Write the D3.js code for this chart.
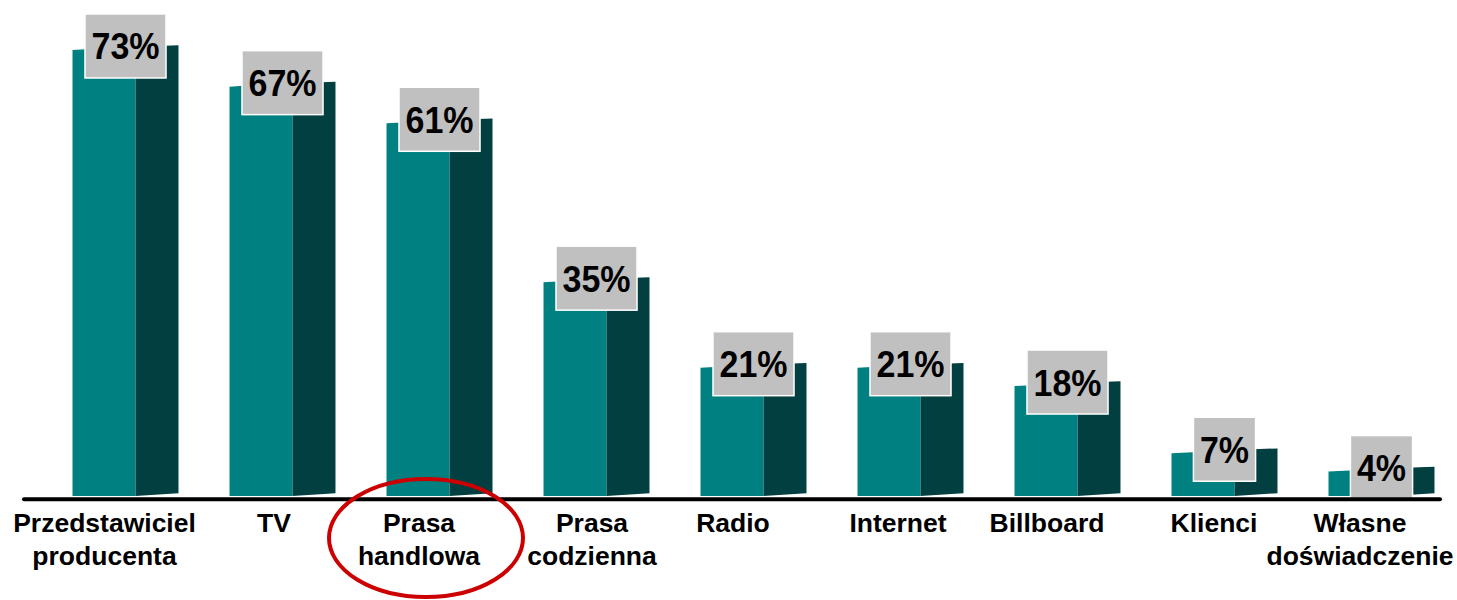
<!DOCTYPE html>
<html>
<head>
<meta charset="utf-8">
<script src="https://cdn.jsdelivr.net/npm/d3@7"></script>
<style>
  html, body { margin: 0; padding: 0; background: #fff; }
  svg { display: block; }
</style>
</head>
<body>
<svg id="chart" width="1457" height="600"></svg>
<script>
// ---- data ----
const categories = [
  "Przedstawiciel\nproducenta",
  "TV",
  "Prasa\nhandlowa",
  "Prasa\ncodzienna",
  "Radio",
  "Internet",
  "Billboard",
  "Klienci",
  "Własne\ndoświadczenie"
];
const values = [73, 67, 61, 35, 21, 21, 18, 7, 4];
const valueLabels = ["73%", "67%", "61%", "35%", "21%", "21%", "18%", "7%", "4%"];
const highlighted = ["Prasa\nhandlowa"];

// ---- layout ----
const W = 1457, H = 600;
const baseY = 496;
const labelDx = [-21, -8.5, -20.5, -4.5, -20.5, -12.5, -20.5, -10.5, -21.5];

const svg = d3.select("#chart");

const x = d3.scaleBand()
  .domain(categories)
  .range([47, 1460])
  .paddingInner(0.325)
  .paddingOuter(0.1625);

const y = d3.scaleLinear().domain([0, 80]).range([baseY, baseY - 80 * 6.11]);

const front = "#008080";
const side = "#023F40";

const bars = svg.append("g").selectAll("g.bar")
  .data(categories.map((c, i) => ({ c, v: values[i], t: valueLabels[i], i })))
  .join("g").attr("class", "bar");

bars.each(function (d) {
  const g = d3.select(this);
  const x0 = x(d.c), bw = x.bandwidth();
  const xm = x0 + bw * 0.595, x1 = x0 + bw;
  const yt = y(d.v);
  // front face
  g.append("path")
    .attr("d", `M${x0},${baseY} L${x0},${yt} Q${(x0 + xm) / 2},${yt - 1.8} ${xm},${yt - 2.6} L${xm},${baseY} Z`)
    .attr("fill", front);
  // side face
  g.append("path")
    .attr("d", `M${xm},${yt - 2.6} Q${(xm + x1) / 2},${yt - 4.2} ${x1},${yt - 4.8} L${x1},${baseY - 2.8} L${xm},${baseY} Z`)
    .attr("fill", side);
});

// axis line
svg.append("line")
  .attr("x1", 24).attr("x2", 1440)
  .attr("y1", baseY + 3.3).attr("y2", baseY + 3.3)
  .attr("stroke", "#000").attr("stroke-width", 4)
  .attr("stroke-linecap", "round");

// value label boxes
const fontVal = "bold 34px 'Liberation Sans', Arial, sans-serif";
bars.each(function (d) {
  const g = d3.select(this);
  const cx = x(d.c) + x.bandwidth() / 2;
  const top = y(d.v) - 36;
  const txt = g.append("text")
    .attr("transform", `translate(${cx},${top + 45.5}) scale(1,1.1)`)
    .attr("text-anchor", "middle")
    .style("font", fontVal)
    .attr("fill", "#000")
    .text(d.t);
  const tw = txt.node().getComputedTextLength();
  g.insert("rect", "text")
    .attr("x", cx - tw / 2 - 6.5).attr("y", top)
    .attr("width", tw + 13).attr("height", 64)
    .attr("fill", "#C0C0C0")
    .attr("stroke", "#fff").attr("stroke-width", 1.5);
});

// category labels
const cat = svg.append("g").selectAll("text.cat")
  .data(categories)
  .join("text")
  .attr("class", "cat")
  .attr("text-anchor", "middle")
  .style("font", "bold 26.5px 'Liberation Sans', Arial, sans-serif")
  .attr("fill", "#000")
  .attr("transform", (c, i) => `translate(${x(c) + x.bandwidth() / 2 + labelDx[i]},532)`);

cat.each(function (c) {
  const t = d3.select(this);
  c.split("\n").forEach((line, k) => {
    t.append("tspan").attr("x", 0).attr("y", k * 33).text(line);
  });
});

// highlight ellipse
highlighted.forEach(h => {
  const i = categories.indexOf(h);
  const cx = x(h) + x.bandwidth() / 2 + labelDx[i] + 7;
  svg.append("ellipse")
    .attr("cx", cx).attr("cy", 538)
    .attr("rx", 97).attr("ry", 59)
    .attr("fill", "none")
    .attr("stroke", "#CC0000").attr("stroke-width", 4);
});
</script>
</body>
</html>
